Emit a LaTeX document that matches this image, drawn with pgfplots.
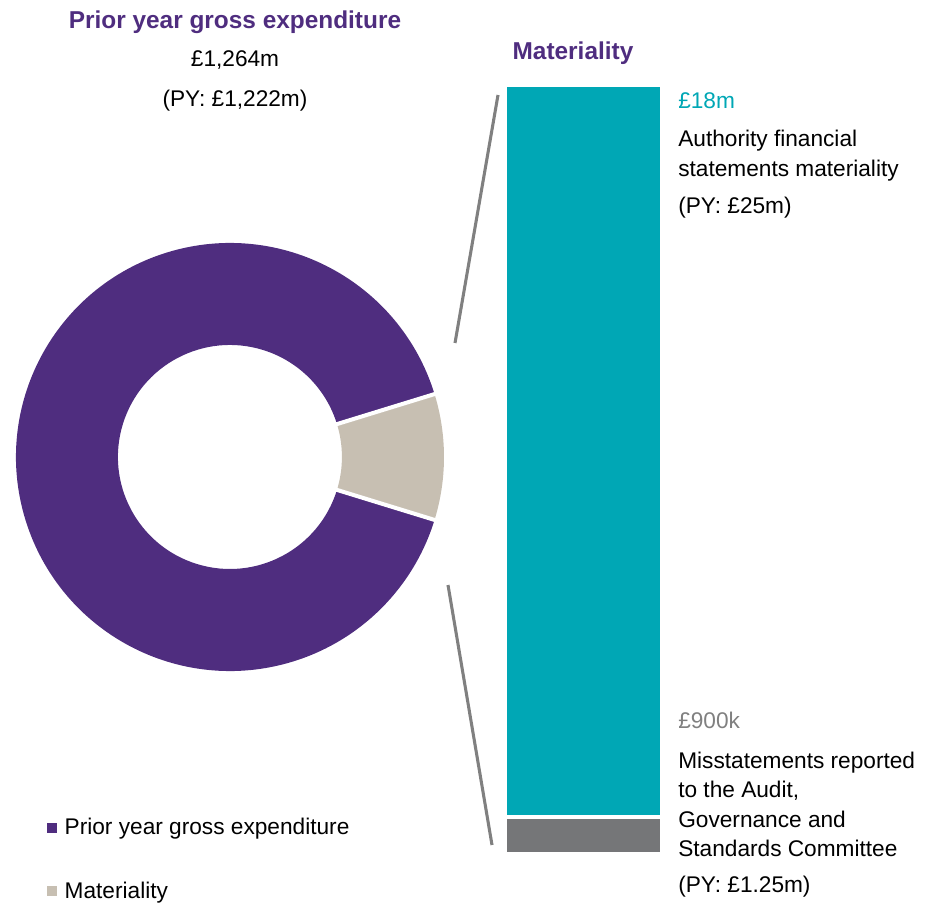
\documentclass[border=0pt]{standalone}
\usepackage{fontspec}
\setmainfont{Liberation Sans}
\usepackage{pgfplots}
\pgfplotsset{compat=1.18}
\usepackage{pgfplotstable}

\definecolor{gtpurple}{RGB}{79,45,127}
\definecolor{gtbeige}{RGB}{199,191,178}
\definecolor{gtteal}{RGB}{0,167,181}
\definecolor{gtgrey}{RGB}{117,118,120}
\definecolor{linegrey}{RGB}{128,128,128}

\newcommand\body{\fontsize{17}{22}\selectfont}
\newcommand\head{\fontsize{18.3}{22}\selectfont\bfseries\color{gtpurple}}

% shares as drawn in the donut (%)
\pgfplotstableread{
part share
Expenditure 90.5
Materiality 9.5
}\donutdata

% materiality bar (GBP m)
\pgfplotstableread{
x misstate materiality
0 0.9 18
}\bardata

\pgfplotstablegetelem{1}{share}\of\donutdata
\pgfmathsetmacro\halfB{1.8*\pgfplotsretval}
\pgfmathsetmacro\endA{360-\halfB}
\def\rin{0.523}

\begin{document}
\begin{tikzpicture}[x=0.75pt,y=0.75pt]

% donut
\begin{axis}[
    at={(172.5pt,334.5pt)}, anchor=center,
    scale only axis, width=321pt, height=321pt,
    xmin=-1, xmax=1, ymin=-1, ymax=1,
    hide axis, clip=false,
    legend cell align=left,
    legend style={at={(0.072,-0.337)}, anchor=north west, draw=none, fill=none,
        font=\body, row sep=29.8pt, inner sep=0pt,
        nodes={inner xsep=6pt}},
]
\fill[gtpurple] (axis cs:{cos(\halfB)},{sin(\halfB)})
    arc[start angle=\halfB, end angle=\endA, radius=160.5pt]
    -- (axis cs:{\rin*cos(\endA)},{\rin*sin(\endA)})
    arc[start angle=\endA, end angle=\halfB, radius=84pt] -- cycle;
\fill[gtbeige] (axis cs:{cos(-\halfB)},{sin(-\halfB)})
    arc[start angle=-\halfB, end angle=\halfB, radius=160.5pt]
    -- (axis cs:{\rin*cos(\halfB)},{\rin*sin(\halfB)})
    arc[start angle=\halfB, end angle=-\halfB, radius=84pt] -- cycle;
\draw[white, line width=3pt] (axis cs:{0.5*cos(\halfB)},{0.5*sin(\halfB)}) -- (axis cs:{1.02*cos(\halfB)},{1.02*sin(\halfB)});
\draw[white, line width=3pt] (axis cs:{0.5*cos(-\halfB)},{0.5*sin(-\halfB)}) -- (axis cs:{1.02*cos(-\halfB)},{1.02*sin(-\halfB)});
\addlegendimage{legend image code/.code={\fill[gtpurple] (0pt,-3.4pt) rectangle (6.8pt,3.4pt);}}
\addlegendentry{Prior year gross expenditure}
\addlegendimage{legend image code/.code={\fill[gtbeige] (0pt,-3.4pt) rectangle (6.8pt,3.4pt);}}
\addlegendentry{Materiality}
\end{axis}

% materiality bar
\begin{axis}[
    at={(378.75pt,36.75pt)}, anchor=south west,
    scale only axis, width=117.75pt, height=576.75pt,
    xmin=-0.5, xmax=0.5, ymin=0, ymax=18.9,
    hide axis, ybar stacked, bar width=117.75pt,
]
\addplot[fill=gtgrey, draw=white, line width=3pt] table[x=x, y=misstate] {\bardata};
\addplot[fill=gtteal, draw=white, line width=3pt] table[x=x, y=materiality] {\bardata};
\end{axis}

% connector lines
\draw[linegrey, line width=2.3pt] (498,808) -- (455,560);
\draw[linegrey, line width=2.3pt] (448,318) -- (492,58);

% labels
\node[font=\head] at (235,881) {Prior year gross expenditure};
\node[font=\body] at (235,843) {£1,264m};
\node[font=\body] at (235,802) {(PY: £1,222m)};
\node[font=\head] at (573,850) {Materiality};

\node[font=\body, text=gtteal, anchor=west, inner sep=0pt] at (678,802) {£18m};
\node[font=\fontsize{17}{22.6}\selectfont, anchor=west, align=left, inner sep=0pt] at (678,747)
    {Authority financial\\statements materiality};
\node[font=\body, anchor=west, inner sep=0pt] at (678,695) {(PY: £25m)};

\node[font=\body, text=linegrey, anchor=west, inner sep=0pt] at (678,183) {£900k};
\node[font=\body, anchor=west, align=left, inner sep=0pt] at (678,98.5)
    {Misstatements reported\\to the Audit,\\Governance and\\Standards Committee};
\node[font=\body, anchor=west, inner sep=0pt] at (678,16) {(PY: £1.25m)};

\pgfresetboundingbox
\useasboundingbox (0,0) rectangle (930,903);
\end{tikzpicture}
\end{document}
